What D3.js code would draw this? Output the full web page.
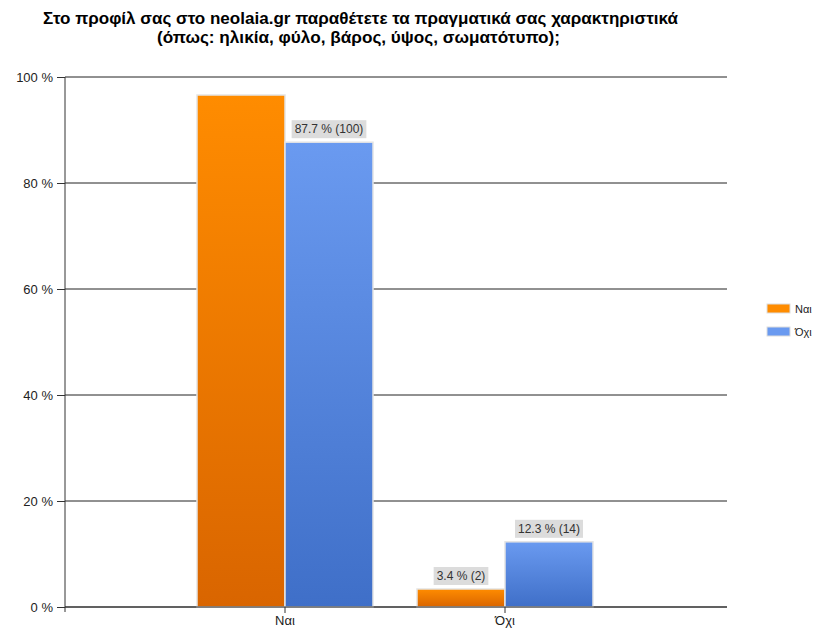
<!DOCTYPE html>
<html>
<head>
<meta charset="utf-8">
<script src="https://cdn.jsdelivr.net/npm/d3@7"></script>
<style>
  body { margin: 0; background: #fff; }
  svg text { font-family: "Liberation Sans", Arial, sans-serif; }
</style>
</head>
<body>
<div id="chart"></div>
<script>
const categories = ['Ναι', 'Όχι'];
const seriesNames = ['Ναι', 'Όχι'];
const seriesValues = [
  [96.6, 3.4],   // Ναι
  [87.7, 12.3]   // Όχι
];
const seriesCounts = [
  [57, 2],
  [100, 14]
];
// the label of the tallest bar is cut off in the original
const labelShown = [
  [false, true],
  [true, true]
];
const yTicks = [0, 20, 40, 60, 80, 100];
const titleLines = [
  'Στο προφίλ σας στο neolaia.gr παραθέτετε τα πραγματικά σας χαρακτηριστικά',
  '(όπως: ηλικία, φύλο, βάρος, ύψος, σωματότυπο);'
];

const width = 819, height = 631;
const margin = {top: 77, left: 65, right: 727, bottom: 607};
const colors = [
  {top: '#ff8c00', bottom: '#d96500'},
  {top: '#6a9af0', bottom: '#3f6fc8'}
];

const svg = d3.select('#chart').append('svg').attr('width', width).attr('height', height);

const defs = svg.append('defs');
colors.forEach((c, i) => {
  const g = defs.append('linearGradient').attr('id', 'grad' + i)
    .attr('x1', 0).attr('y1', 0).attr('x2', 0).attr('y2', 1);
  g.append('stop').attr('offset', '0%').attr('stop-color', c.top);
  g.append('stop').attr('offset', '100%').attr('stop-color', c.bottom);
});

const y = d3.scaleLinear().domain([0, 100]).range([margin.bottom, margin.top]);
const x0 = d3.scaleBand().domain(categories).range([175, 615]);
const x1 = d3.scaleBand().domain(seriesNames).range([-88, 88]);

// title
const titleFit = [{x: 360.5, len: 635}, {x: 358.5, len: 403}];
titleLines.forEach((t, i) => {
  svg.append('text').attr('x', titleFit[i].x).attr('y', 24 + i * 19)
    .attr('text-anchor', 'middle').attr('font-size', 16).attr('font-weight', 'bold')
    .attr('textLength', titleFit[i].len).attr('lengthAdjust', 'spacingAndGlyphs')
    .attr('fill', '#000').text(t);
});

// gridlines + y axis
const yAxis = d3.axisLeft(y).tickValues(yTicks).tickFormat(d => d + ' %').tickSize(8).tickPadding(4);
const gy = svg.append('g').attr('transform', `translate(${margin.left},0)`).call(yAxis);
gy.select('.domain').remove();
gy.selectAll('text').attr('font-size', 13).attr('fill', '#222');
gy.selectAll('line').attr('stroke', '#333');

svg.append('g').selectAll('line').data(yTicks).join('line')
  .attr('x1', margin.left).attr('x2', margin.right)
  .attr('y1', d => y(d)).attr('y2', d => y(d))
  .attr('stroke', '#222').attr('stroke-width', 1);

// bars
const groups = svg.append('g').selectAll('g').data(categories).join('g')
  .attr('transform', d => `translate(${x0(d) + x0.bandwidth() / 2},0)`);

groups.each(function(cat, ci) {
  const g = d3.select(this);
  seriesNames.forEach((s, si) => {
    const v = seriesValues[si][ci];
    g.append('rect')
      .attr('x', x1(s)).attr('y', y(v))
      .attr('width', x1.bandwidth()).attr('height', y(0) - y(v))
      .attr('fill', `url(#grad${si})`)
      .attr('stroke', '#e4e4e4').attr('stroke-width', 1.5);
    if (labelShown[si][ci]) {
      const txt = `${v} % (${seriesCounts[si][ci]})`;
      const cx = x1(s) + x1.bandwidth() / 2;
      const lbl = g.append('g');
      const t = lbl.append('text').attr('x', cx).attr('y', y(v) - 9)
        .attr('text-anchor', 'middle').attr('font-size', 12).attr('fill', '#333').text(txt);
      const bb = t.node().getBBox();
      lbl.insert('rect', 'text')
        .attr('x', bb.x - 3).attr('y', bb.y - 2)
        .attr('width', bb.width + 6).attr('height', bb.height + 4)
        .attr('fill', '#dcdcdc');
    }
  });
});

// axes lines
svg.append('line').attr('x1', margin.left).attr('x2', margin.left)
  .attr('y1', margin.top).attr('y2', margin.bottom + 5)
  .attr('stroke', '#333');
svg.append('line').attr('x1', margin.left).attr('x2', margin.right)
  .attr('y1', margin.bottom).attr('y2', margin.bottom)
  .attr('stroke', '#333').attr('stroke-width', 1.2);

const xAxis = d3.axisBottom(x0).tickSize(6).tickSizeOuter(0).tickPadding(3);
const gx = svg.append('g').attr('transform', `translate(0,${margin.bottom})`).call(xAxis);
gx.select('.domain').remove();
gx.selectAll('text').attr('font-size', 13).attr('fill', '#222');
gx.selectAll('line').attr('stroke', '#333');

// legend
const leg = svg.append('g').attr('transform', 'translate(767,304)');
seriesNames.forEach((s, i) => {
  leg.append('rect').attr('x', 0).attr('y', i * 23).attr('width', 23).attr('height', 9)
    .attr('fill', colors[i].top).attr('stroke', '#ddd');
  leg.append('text').attr('x', 28).attr('y', i * 23 + 9)
    .attr('font-size', 11).attr('fill', '#222').text(s);
});
</script>
</body>
</html>
